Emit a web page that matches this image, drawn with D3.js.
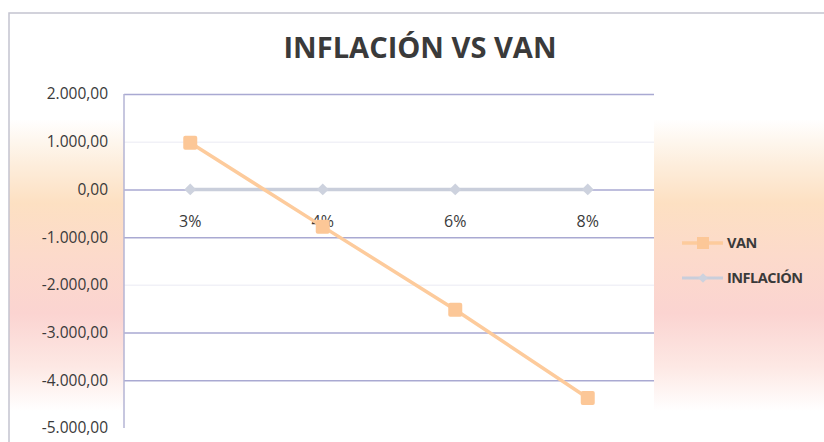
<!DOCTYPE html>
<html>
<head>
<meta charset="utf-8">
<script src="https://cdn.jsdelivr.net/npm/d3@7"></script>
<style>
  body { margin: 0; background: #fff; }
  svg text { font-family: "Open Sans", sans-serif; fill: #3a3a3a; }
</style>
</head>
<body>
<svg id="chart" width="824" height="442"></svg>
<script>
// data
const categories = ["3%", "4%", "6%", "8%"];
const van = [980, -780, -2520, -4370];
const inflacion = [0.03, 0.04, 0.06, 0.08];
const yTicks = [2000, 1000, 0, -1000, -2000, -3000, -4000, -5000];
const seriesNames = ["VAN", "INFLACIÓN"];

const svg = d3.select("#chart");
const W = 824, H = 442;
const plot = {left: 124, right: 654, top: 94, bottom: 428};

// chart area gradient (orange / pink band)
const defs = svg.append("defs");
const grad = defs.append("linearGradient").attr("id", "bg")
    .attr("x1", 0).attr("y1", 0).attr("x2", 0).attr("y2", 1);
[[0, "#ffffff"], [0.24, "#ffffff"], [0.34, "#fdeedd"], [0.43, "#fde0c2"],
 [0.55, "#fcdacb"], [0.68, "#fbd4d1"], [0.8, "#fde8e4"], [0.9, "#ffffff"], [1, "#ffffff"]]
  .forEach(s => grad.append("stop").attr("offset", s[0]).attr("stop-color", s[1]));

svg.append("rect")
    .attr("x", 9).attr("y", 13).attr("width", W).attr("height", H)
    .attr("fill", "url(#bg)")
    .attr("stroke", "#c4c4d0").attr("stroke-width", 1.5);

// white plot area
svg.append("rect")
    .attr("x", plot.left).attr("y", plot.top - 2)
    .attr("width", plot.right - plot.left).attr("height", plot.bottom - plot.top + 2)
    .attr("fill", "#fff");

const x = d3.scaleBand().domain(categories).range([plot.left, plot.right]);
const y = d3.scaleLinear().domain([-5000, 2000]).range([plot.bottom, plot.top]);
const cx = d => x(d) + x.bandwidth() / 2;

// title
svg.append("text")
    .attr("x", 420).attr("y", 58)
    .attr("text-anchor", "middle")
    .attr("font-size", 29).attr("font-weight", 700)
    .attr("textLength", 273).attr("lengthAdjust", "spacingAndGlyphs")
    .text("INFLACIÓN VS VAN");

// gridlines (the 1.000 and -2.000 ones are barely visible in the scan)
const grid = svg.append("g").attr("class", "grid")
    .attr("transform", "translate(" + plot.left + ",0)")
    .call(d3.axisLeft(y).tickValues(yTicks.filter(t => t !== -5000))
        .tickSize(-(plot.right - plot.left)).tickFormat(""));
grid.select(".domain").remove();
grid.selectAll("line")
    .attr("stroke", d => (d === 1000 || d === -2000) ? "#f1f1f7" : "#a9a9d2")
    .attr("stroke-width", 1.5);

// vertical axis line
svg.append("line")
    .attr("x1", plot.left).attr("x2", plot.left)
    .attr("y1", plot.top).attr("y2", plot.bottom)
    .attr("stroke", "#b4b4d4").attr("stroke-width", 1.5);

// y labels
const fmt = d3.formatLocale({decimal: ",", thousands: ".", grouping: [3], currency: ["", ""], minus: "-"}).format(",.2f");
svg.append("g").selectAll("text").data(yTicks).join("text")
    .attr("x", 108).attr("y", d => y(d))
    .attr("dy", "0.35em")
    .attr("text-anchor", "end")
    .attr("font-size", 15.5)
    .text(d => fmt(d));

// category labels
svg.append("g").selectAll("text").data(categories).join("text")
    .attr("x", d => cx(d)).attr("y", 221)
    .attr("dy", "0.35em")
    .attr("text-anchor", "middle")
    .attr("font-size", 16)
    .text(d => d);

const line = d3.line().x((d, i) => cx(categories[i])).y(d => y(d));

// INFLACIÓN series
svg.append("path").datum(inflacion)
    .attr("d", line).attr("fill", "none")
    .attr("stroke", "#c9cedb").attr("stroke-width", 3.5);
svg.append("g").selectAll("path").data(inflacion).join("path")
    .attr("transform", (d, i) => "translate(" + cx(categories[i]) + "," + y(d) + ")")
    .attr("d", d3.symbol(d3.symbolDiamond2, 90))
    .attr("fill", "#cdd2de");

// VAN series
svg.append("path").datum(van)
    .attr("d", line).attr("fill", "none")
    .attr("stroke", "#fdcb9c").attr("stroke-width", 3.5);
svg.append("g").selectAll("rect").data(van).join("rect")
    .attr("x", (d, i) => cx(categories[i]) - 7).attr("y", d => y(d) - 7)
    .attr("width", 14).attr("height", 14).attr("rx", 2)
    .attr("fill", "#fcc797");

// legend
const legend = svg.append("g").attr("transform", "translate(682,243)");
const lg = legend.selectAll("g").data(seriesNames).join("g")
    .attr("transform", (d, i) => "translate(0," + i * 35 + ")");
lg.append("line").attr("x1", 0).attr("x2", 41).attr("y1", 0).attr("y2", 0)
    .attr("stroke", (d, i) => i === 0 ? "#fdcb9c" : "#c9cedb")
    .attr("stroke-width", (d, i) => i === 0 ? 3.5 : 3);
lg.filter((d, i) => i === 0).append("rect")
    .attr("x", 15).attr("y", -6).attr("width", 12).attr("height", 12)
    .attr("fill", "#fcc797");
lg.filter((d, i) => i === 1).append("path")
    .attr("transform", "translate(21,0)")
    .attr("d", d3.symbol(d3.symbolDiamond2, 60))
    .attr("fill", "#cdd2de");
lg.append("text")
    .attr("x", 45).attr("y", 0).attr("dy", "0.35em")
    .attr("font-size", 14.5).attr("font-weight", 700)
    .attr("letter-spacing", -0.5)
    .text(d => d);
</script>
</body>
</html>
